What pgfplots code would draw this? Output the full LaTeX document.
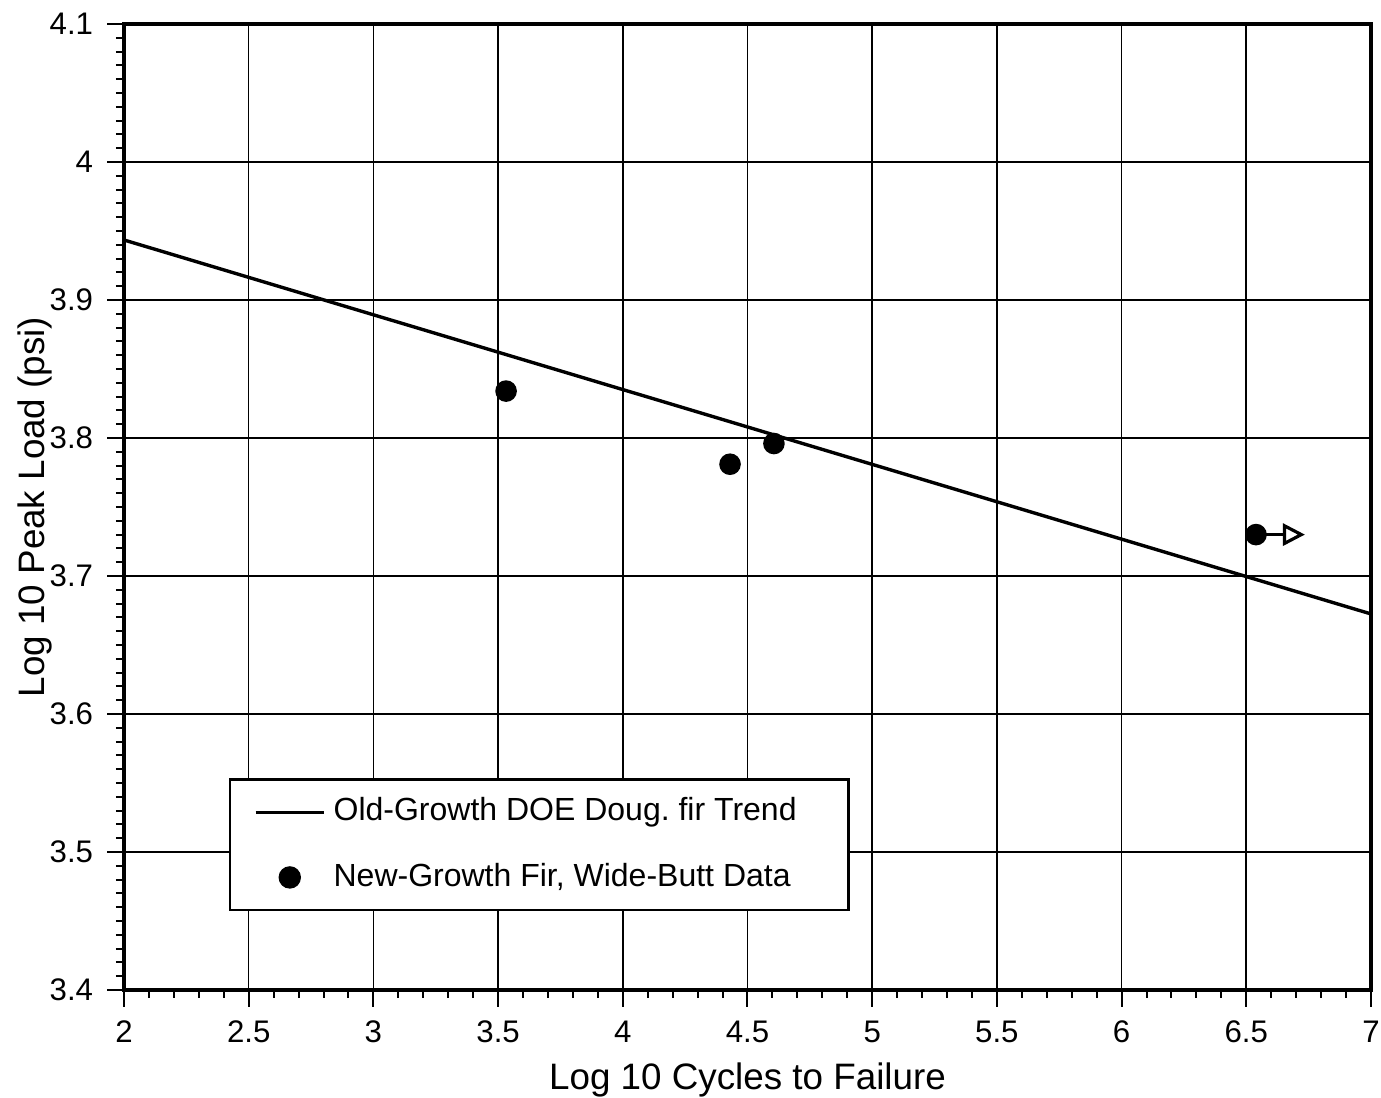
\documentclass[border=0pt]{standalone}
\usepackage{fontspec}
\setmainfont{Liberation Sans}
\usepackage{pgfplots}
\pgfplotsset{compat=1.18}
\usetikzlibrary{arrows.meta}

\begin{document}
\begin{tikzpicture}
\useasboundingbox (-31pt,-27pt) rectangle (314.25pt,247.5pt);
\begin{axis}[
  name=main,
  at={(0,0)}, anchor=south west,
  scale only axis,
  width=311.75pt, height=241.5pt,
  xmin=2, xmax=7, ymin=3.4, ymax=4.1,
  xtick={2,2.5,3,3.5,4,4.5,5,5.5,6,6.5,7},
  ytick={3.4,3.5,3.6,3.7,3.8,3.9,4.0,4.1},
  yticklabels={3.4,3.5,3.6,3.7,3.8,3.9,4,4.1},
  minor x tick num=4,
  minor y tick num=9,
  tick pos=left,
  tick align=outside,
  major tick length=4.2pt,
  minor tick length=2pt,
  every tick/.style={black, line width=0.5pt},
  grid=major,
  major grid style={black, line width=0.4pt},
  axis line style={line width=0.8pt},
  /pgf/number format/assume math mode=true,
  tick label style={font=\fontsize{7.8}{9}\selectfont},
  label style={font=\fontsize{9.2}{11}\selectfont},
  xlabel={Log 10 Cycles to Failure},
  ylabel={Log 10 Peak Load (psi)},
  xlabel style={yshift=2pt},
  ylabel style={at={(axis description cs:-0.0714,0.5)}, anchor=center},
  legend style={
    at={(rel axis cs:0.084,0.219)}, anchor=north west,
    draw=black, line width=0.6pt,
    font=\fontsize{8}{9.6}\selectfont,
    inner xsep=6pt, inner ysep=2.5pt,
    row sep=5pt,
    legend cell align=left,
  },
]
\addplot[black, line width=0.85pt] coordinates {(2,3.9435) (7,3.6725)};
\addlegendentry{Old-Growth DOE Doug.\ fir Trend\hspace*{5pt}}
\addplot[only marks, mark=*, mark size=2.5pt, black] coordinates {
  (3.532,3.834) (4.430,3.781) (4.606,3.796) (6.539,3.730)
};
\addlegendentry{New-Growth Fir, Wide-Butt Data}
\addplot[black, line width=0.8pt, -{Triangle[open, length=5.5pt, width=5.5pt]}, forget plot]
  coordinates {(6.56,3.730) (6.735,3.730)};
\end{axis}
\end{tikzpicture}
\end{document}
